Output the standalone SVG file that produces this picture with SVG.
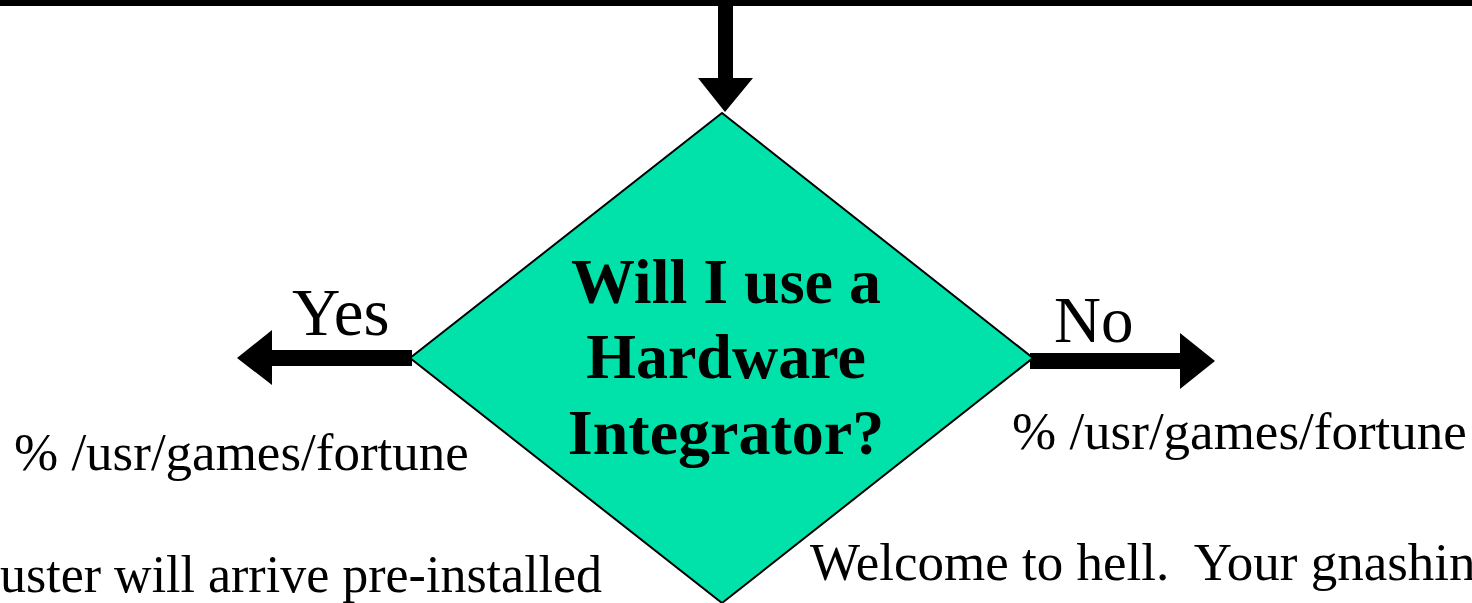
<svg xmlns="http://www.w3.org/2000/svg" width="1472" height="603" viewBox="0 0 1472 603">
  <style>
    .serif { font-family: "Liberation Serif", "Times New Roman", serif; fill: #000; }
    .label { font-size: 65px; }
    .body { font-size: 53px; }
    .q { font-size: 64px; font-weight: bold; text-anchor: middle; }
    .arrow { fill: #000; }
  </style>
  <rect width="1472" height="603" fill="#fff"/>

  <!-- connectors -->
  <g id="connectors">
    <!-- top bus line -->
    <rect class="arrow" x="0" y="0" width="1472" height="6"/>
    <!-- drop into the decision -->
    <polygon class="arrow" points="718,0 733,0 733,78 753,78 725,112 698,78 718,78"/>
    <!-- Yes branch -->
    <polygon class="arrow" points="412,350 272,350 272,330 237,358 272,385 272,366 412,366"/>
    <!-- No branch -->
    <polygon class="arrow" points="1030,353 1180,353 1180,333 1215,361 1180,389 1180,369 1030,369"/>
  </g>

  <!-- decision node -->
  <g id="decision">
    <polygon points="722,113 1033,358 722,603 410,358" fill="#00E2A9" stroke="#000" stroke-width="2"/>
    <text class="serif q" x="726" y="303">Will I use a</text>
    <text class="serif q" x="726" y="378">Hardware</text>
    <text class="serif q" x="726" y="454">Integrator?</text>
  </g>

  <!-- branch labels -->
  <g id="yes-label">
    <text class="serif label" x="292" y="335" style="font-size:67px">Yes</text>
  </g>
  <g id="no-label">
    <text class="serif label" x="1054" y="342">No</text>
  </g>

  <!-- outcome texts -->
  <g id="yes-outcome">
    <text class="serif body" x="14" y="470">% /usr/games/fortune</text>
    <text class="serif body" x="0" y="592" style="font-size:52px">uster will arrive pre-installed</text>
  </g>
  <g id="no-outcome">
    <text class="serif body" x="1012" y="449">% /usr/games/fortune</text>
    <text class="serif body" x="810" y="580" xml:space="preserve">Welcome to hell.  Your gnashing</text>
  </g>
</svg>
